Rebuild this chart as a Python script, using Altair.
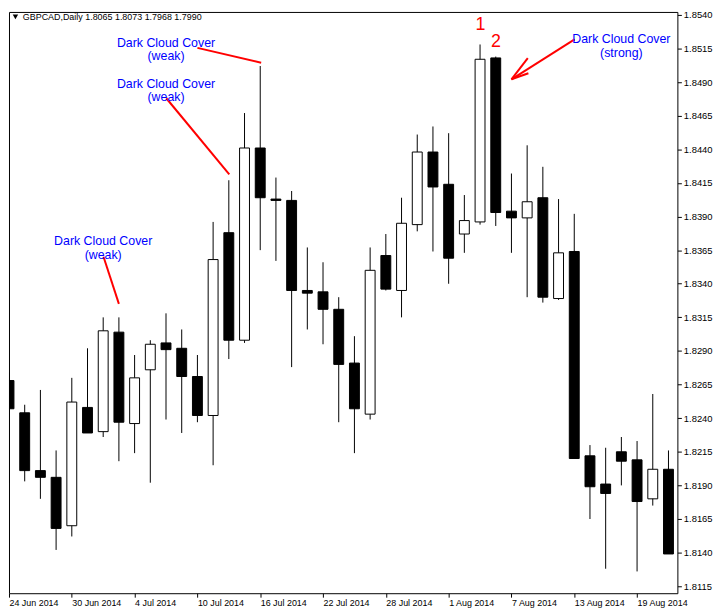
import altair as alt
import pandas as pd

# ---- data (GBPCAD daily) ----
dates = ["24 Jun 2014", "25 Jun 2014", "26 Jun 2014", "27 Jun 2014", "30 Jun 2014",
         "1 Jul 2014", "2 Jul 2014", "3 Jul 2014", "4 Jul 2014", "7 Jul 2014",
         "8 Jul 2014", "9 Jul 2014", "10 Jul 2014", "11 Jul 2014", "14 Jul 2014",
         "15 Jul 2014", "16 Jul 2014", "17 Jul 2014", "18 Jul 2014", "21 Jul 2014",
         "22 Jul 2014", "23 Jul 2014", "24 Jul 2014", "25 Jul 2014", "28 Jul 2014",
         "29 Jul 2014", "30 Jul 2014", "31 Jul 2014", "1 Aug 2014", "4 Aug 2014",
         "5 Aug 2014", "6 Aug 2014", "7 Aug 2014", "8 Aug 2014", "11 Aug 2014",
         "12 Aug 2014", "13 Aug 2014", "14 Aug 2014", "15 Aug 2014", "18 Aug 2014",
         "19 Aug 2014", "20 Aug 2014", "21 Aug 2014"]

open_ = [1.8268, 1.8244, 1.8201, 1.8196, 1.8160, 1.8248, 1.8230, 1.8304, 1.8236, 1.8276,
         1.8296, 1.8292, 1.8271, 1.8242, 1.8378, 1.8298, 1.8441, 1.8403, 1.8402, 1.8335,
         1.8334, 1.8321, 1.8281, 1.8243, 1.8361, 1.8335, 1.8384, 1.8438, 1.8414, 1.8377,
         1.8386, 1.8508, 1.8394, 1.8389, 1.8404, 1.8329, 1.8364, 1.8212, 1.8191, 1.8215,
         1.8209, 1.8180, 1.8202]
high = [1.8274, 1.8250, 1.8261, 1.8216, 1.8270, 1.8292, 1.8315, 1.8315, 1.8287, 1.8298,
        1.8318, 1.8306, 1.8287, 1.8386, 1.8417, 1.8467, 1.8502, 1.8419, 1.8409, 1.8367,
        1.8356, 1.8330, 1.8301, 1.8367, 1.8377, 1.8404, 1.8451, 1.8457, 1.8452, 1.8406,
        1.8518, 1.8509, 1.8422, 1.8443, 1.8427, 1.8403, 1.8392, 1.8220, 1.8218, 1.8226,
        1.8223, 1.8258, 1.8216]
low = [1.8192, 1.8193, 1.8180, 1.8142, 1.8152, 1.8229, 1.8226, 1.8208, 1.8214, 1.8192,
       1.8239, 1.8229, 1.8237, 1.8205, 1.8284, 1.8296, 1.8365, 1.8357, 1.8278, 1.8306,
       1.8295, 1.8237, 1.8214, 1.8239, 1.8335, 1.8315, 1.8379, 1.8364, 1.8340, 1.8363,
       1.8384, 1.8383, 1.8363, 1.8330, 1.8326, 1.8328, 1.8210, 1.8165, 1.8128, 1.8190,
       1.8126, 1.8175, 1.8139]
close = [1.8247, 1.8201, 1.8196, 1.8158, 1.8252, 1.8229, 1.8305, 1.8237, 1.8270, 1.8295,
         1.8291, 1.8271, 1.8242, 1.8358, 1.8298, 1.8441, 1.8404, 1.8402, 1.8335, 1.8333,
         1.8321, 1.8280, 1.8247, 1.8350, 1.8336, 1.8385, 1.8438, 1.8412, 1.8359, 1.8387,
         1.8507, 1.8393, 1.8389, 1.8401, 1.8330, 1.8363, 1.8210, 1.8189, 1.8184, 1.8208,
         1.8178, 1.8202, 1.8139]

y_ticks = [1.8115, 1.8140, 1.8165, 1.8190, 1.8215, 1.8240, 1.8265, 1.8290, 1.8315,
           1.8340, 1.8365, 1.8390, 1.8415, 1.8440, 1.8465, 1.8490, 1.8515, 1.8540]
x_tick_idx = [0, 4, 8, 12, 16, 20, 24, 28, 32, 36, 40]
x_tick_labels = [dates[i] for i in x_tick_idx]

header = "GBPCAD,Daily  1.8065 1.8073 1.7968 1.7990"

# annotations (anchored in bar index / price units)
note_text = ["Dark Cloud Cover\n(weak)", "Dark Cloud Cover\n(weak)",
             "Dark Cloud Cover\n(weak)", "Dark Cloud Cover\n(strong)"]
note_x = [10.0, 10.0, 6.0, 39.0]
note_y = [1.85194, 1.84888, 1.83716, 1.85219]

seg_x = [12.0, 10.02, 6.02, 36.02, 32.0, 32.0]
seg_x2 = [16.06, 14.03, 7.0, 32.0, 33.04, 33.08]
seg_y = [1.85155, 1.84780, 1.83601, 1.85218, 1.84921, 1.84921]
seg_y2 = [1.85044, 1.84214, 1.83250, 1.84921, 1.85078, 1.84966]

num_text = ["1", "2"]
num_x = [30.02, 31.02]
num_y = [1.85325, 1.85199]

# ---- tables ----
df = pd.DataFrame({"idx": list(range(len(dates))), "date": dates, "open": open_,
                   "high": high, "low": low, "close": close})
df["bull"] = df["close"] > df["open"]
notes = pd.DataFrame({"x": note_x, "y": note_y, "t": note_text})
segs = pd.DataFrame({"x": seg_x, "x2": seg_x2, "y": seg_y, "y2": seg_y2})
nums = pd.DataFrame({"x": num_x, "y": num_y, "t": num_text})

W, H = 675, 587
xs = alt.Scale(domain=[0, 42.568], nice=False, zero=False, padding=0)
ys = alt.Scale(domain=[1.81098, 1.85422], nice=False, zero=False, padding=0)
FONT = "Liberation Sans"

label_expr = "[" + ",".join("'%s'" % s for s in x_tick_labels) + "][round(datum.value/4)]"

x_axis = alt.Axis(values=x_tick_idx, labelExpr=label_expr, grid=False, domain=False,
                  tickSize=4, tickColor="black", labelAlign="left", labelPadding=1,
                  labelFont=FONT, labelFontSize=9, labelColor="black",
                  labelFlush=False, labelOverlap=False, title=None)
y_axis = alt.Axis(orient="right", values=y_ticks, format=".4f", grid=False, domain=False,
                  tickSize=4, tickColor="black", labelPadding=2, labelFont=FONT,
                  labelFontSize=9.5, labelColor="black", labelFlush=False,
                  labelOverlap=False, title=None)


def X(field):
    return alt.X(field, scale=xs, axis=x_axis, title=None)


def Y(field):
    return alt.Y(field, scale=ys, axis=y_axis, title=None)


base = alt.Chart(df)
wicks = base.mark_rule(color="black", strokeWidth=1, clip=True).encode(
    x=X("idx:Q"), y=Y("low:Q"), y2="high:Q",
)
bodies = base.mark_bar(size=10, stroke="black", strokeWidth=1, clip=True).encode(
    x=X("idx:Q"), y=Y("open:Q"), y2="close:Q",
    fill=alt.condition("datum.bull", alt.value("white"), alt.value("black")),
)

note_layer = alt.Chart(notes).mark_text(
    font=FONT, fontSize=12.5, color="#0000ff", align="center", baseline="middle",
    lineBreak="\n", lineHeight=13.5
).encode(x=X("x:Q"), y=Y("y:Q"), text="t:N")

seg_layer = alt.Chart(segs).mark_rule(color="#ff0000", strokeWidth=2).encode(
    x=X("x:Q"), x2="x2:Q", y=Y("y:Q"), y2="y2:Q",
)
num_layer = alt.Chart(nums).mark_text(
    font=FONT, fontSize=18, color="#ff0000", align="center", baseline="middle"
).encode(x=X("x:Q"), y=Y("y:Q"), text="t:N")

hdr = pd.DataFrame({"t": [header]})
hdr_text = alt.Chart(hdr).mark_text(
    font=FONT, fontSize=9, color="black", align="left", baseline="middle"
).encode(x=alt.value(14), y=alt.value(5), text="t:N")
hdr_tri = alt.Chart(hdr).mark_point(
    shape="triangle-down", filled=True, color="black", size=30, opacity=1
).encode(x=alt.value(6.5), y=alt.value(5))

chart = alt.layer(wicks, bodies, seg_layer, note_layer, num_layer, hdr_tri, hdr_text).properties(
    width=W, height=H,
    autosize=alt.AutoSizeParams(type="none"),
    padding={"left": 1, "top": 1, "right": 40, "bottom": 17},
    background="white",
).configure_view(stroke="black", strokeWidth=1)

chart.save("out.html", embed_options={"renderer": "svg", "actions": False})
